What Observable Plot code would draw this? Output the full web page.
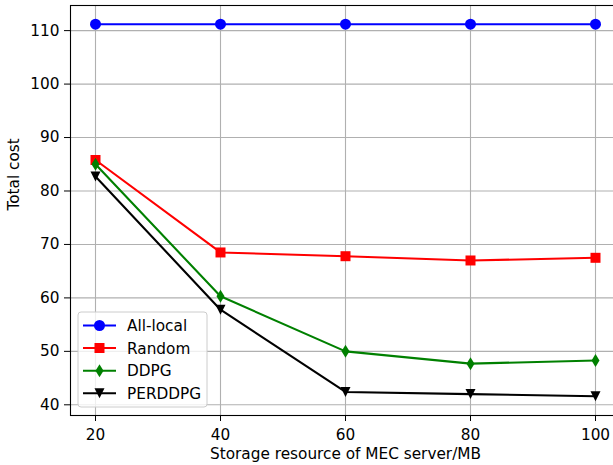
<!DOCTYPE html>
<html>
<head>
<meta charset="utf-8">
<script src="https://cdn.jsdelivr.net/npm/d3@7"></script>
<script src="https://cdn.jsdelivr.net/npm/@observablehq/plot@0.6"></script>
<style>
  html, body { margin: 0; padding: 0; background: white; overflow: hidden; }
  #chart { width: 613px; height: 465px; }
  #chart svg text { font-family: "DejaVu Sans" !important; font-size: 15.3px !important; }
</style>
</head>
<body>
<div id="chart"></div>
<script>
// ---- data ----
const storage = [20, 40, 60, 80, 100];
const allLocal = [111.2, 111.2, 111.2, 111.2, 111.2];
const random = [85.8, 68.5, 67.8, 67.0, 67.5];
const ddpg = [85.0, 60.3, 50.0, 47.7, 48.3];
const perddpg = [82.7, 57.8, 42.4, 42.0, 41.6];
const seriesNames = ["All-local", "Random", "DDPG", "PERDDPG"];
const seriesColors = ["#0000ff", "#ff0000", "#008000", "#000000"];
const xTicks = [20, 40, 60, 80, 100];
const yTicks = [40, 50, 60, 70, 80, 90, 100, 110];

// ---- custom matplotlib-like markers ----
const rOf = size => Math.sqrt(size / Math.PI);
const symCircle = { draw(ctx, size) { const r = rOf(size); ctx.moveTo(r, 0); ctx.arc(0, 0, r, 0, 2 * Math.PI); ctx.closePath(); } };
const symSquare = { draw(ctx, size) { const r = rOf(size); ctx.rect(-r, -r, 2 * r, 2 * r); } };
const symThinDiamond = { draw(ctx, size) { const r = rOf(size); ctx.moveTo(0, -1.3 * r); ctx.lineTo(0.8 * r, 0); ctx.lineTo(0, 1.3 * r); ctx.lineTo(-0.8 * r, 0); ctx.closePath(); } };
const symTriDown = { draw(ctx, size) { const r = rOf(size); ctx.moveTo(-r, -r); ctx.lineTo(r, -r); ctx.lineTo(0, r); ctx.closePath(); } };
const symbols = [symCircle, symSquare, symThinDiamond, symTriDown];
const radii = [5.5, 5, 5, 5];

const valuesBySeries = [allLocal, random, ddpg, perddpg];
const table = [];
seriesNames.forEach((name, i) => storage.forEach((s, j) => table.push({ series: name, storage: s, cost: valuesBySeries[i][j] })));

const font = "DejaVu Sans";
const fs = 15.3;

const marks = [
  Plot.gridX(xTicks, { stroke: "#b0b0b0", strokeOpacity: 1, strokeWidth: 1.1 }),
  Plot.gridY(yTicks, { stroke: "#b0b0b0", strokeOpacity: 1, strokeWidth: 1.1 }),
];
seriesNames.forEach((name, i) => {
  const d = table.filter(r => r.series === name);
  marks.push(Plot.line(d, { x: "storage", y: "cost", stroke: seriesColors[i], strokeWidth: 2.1 }));
  marks.push(Plot.dot(d, { x: "storage", y: "cost", fill: seriesColors[i], symbol: symbols[i], r: radii[i] }));
});
marks.push(
  Plot.frame({ stroke: "black", strokeWidth: 1.1 }),
  Plot.axisX(xTicks, { tickSize: 6, tickPadding: 8, label: null, fontSize: fs, stroke: "black" }),
  Plot.axisY(yTicks, { tickSize: 6, tickPadding: 5, label: null, fontSize: fs, stroke: "black" }),
  Plot.text(["Storage resource of MEC server/MB"], { frameAnchor: "bottom", dy: 43, fontSize: fs, fill: "black" }),
  Plot.text(["Total cost"], { frameAnchor: "left", dx: -56, rotate: -90, fontSize: fs, fill: "black" })
);

const plot = Plot.plot({
  width: 613,
  height: 465,
  marginLeft: 70,
  marginRight: -7,
  marginTop: 5,
  marginBottom: 50,
  style: { fontFamily: font, fontSize: fs + "px", color: "black", background: "white" },
  x: { domain: [16, 104], range: [70, 620] },
  y: { domain: [38, 114.7], range: [415, 5] },
  marks
});
document.getElementById("chart").appendChild(plot);

// ---- legend (inside the plot, lower left) ----
const svg = d3.select(plot);
const lg = svg.append("g").attr("font-family", font).attr("font-size", fs).attr("text-anchor", "start");
lg.append("rect").attr("x", 78).attr("y", 312).attr("width", 129).attr("height", 95)
  .attr("rx", 3).attr("fill", "white").attr("fill-opacity", 0.8).attr("stroke", "#cccccc");
const rowY = [325.5, 348, 370.7, 393.3];
seriesNames.forEach((name, i) => {
  const y = rowY[i];
  lg.append("line").attr("x1", 83).attr("x2", 116).attr("y1", y).attr("y2", y)
    .attr("stroke", seriesColors[i]).attr("stroke-width", 2.1);
  lg.append("path").attr("transform", `translate(99.5,${y})`)
    .attr("d", d3.symbol(symbols[i], radii[i] * radii[i] * Math.PI)())
    .attr("fill", seriesColors[i]);
  lg.append("text").attr("x", 127).attr("y", y).attr("dy", "0.36em").attr("fill", "black")
    .attr("text-anchor", "start").text(name);
});
</script>
</body>
</html>
